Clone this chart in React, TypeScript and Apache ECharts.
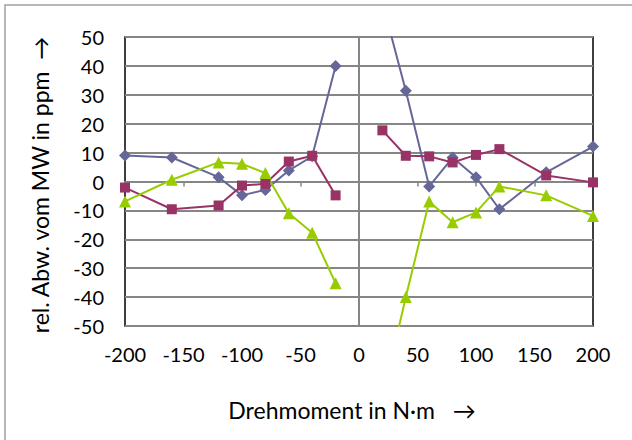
import React, { useEffect, useRef } from "react";
import * as echarts from "echarts";

const torque = [-200, -160, -120, -100, -80, -60, -40, -20, 0, 20, 40, 60, 80, 100, 120, 160, 200];
const blueVals = [9, 8.3, 1.5, -4.8, -2.9, 3.8, 8.7, 40, null, 62, 31.4, -1.7, 8.3, 1.5, -9.6, 3.2, 12.1];
const redVals = [-2.1, -9.6, -8.3, -1.4, -0.8, 6.9, 8.9, -4.8, null, 17.7, 8.9, 8.7, 6.6, 9.2, 11.2, 2.1, -0.3];
const greenVals = [-6.9, 0.6, 6.6, 6.1, 2.9, -11, -17.7, -35.2, null, -75, -40, -6.9, -14.1, -10.7, -1.7, -4.8, -11.9];
const xTicks = [-200, -150, -100, -50, 0, 50, 100, 150, 200];
const yTicks = [-50, -40, -30, -20, -10, 0, 10, 20, 30, 40, 50];

const FONT = "Lato";
const GRAY = "#868686";

const pairs = (vals: (number | null)[]) =>
  torque.map((x, i) => [x, vals[i] === null ? "-" : vals[i]]);

export default function App() {
  const ref = useRef<HTMLDivElement>(null);
  useEffect(() => {
    if (!ref.current) return;
    const chart = echarts.init(ref.current, null, { renderer: "svg" });
    const mkSeries = (name: string, vals: (number | null)[], color: string, symbol: string, size: number) => ({
      name,
      type: "line",
      data: pairs(vals),
      xAxisIndex: 0,
      yAxisIndex: 0,
      symbol,
      symbolSize: size,
      showAllSymbol: true,
      connectNulls: false,
      clip: true,
      lineStyle: { color, width: 2 },
      itemStyle: { color, borderWidth: 0 },
      z: 3,
    });
    chart.setOption({
      animation: false,
      backgroundColor: "#fff",
      textStyle: { fontFamily: FONT },
      graphic: [
        {
          type: "rect",
          shape: { x: 5, y: 5, width: 700, height: 500 },
          style: { fill: "none", stroke: "#a0a0a0", lineWidth: 1.5 },
          silent: true,
          z: -10,
        },
        {
          type: "text",
          x: 40,
          y: 185,
          rotation: Math.PI / 2,
          style: {
            text: "rel. Abw. vom MW in ppm  →",
            font: `23px ${FONT}`,
            fill: "#000",
            align: "center",
            verticalAlign: "middle",
          },
        },
        {
          type: "text",
          x: 352,
          y: 410,
          style: {
            text: "Drehmoment in N·m   →",
            font: `23px ${FONT}`,
            fill: "#000",
            align: "center",
            verticalAlign: "middle",
          },
        },
      ],
      grid: {
        left: 125,
        right: 39,
        top: 37,
        bottom: 114,
        show: true,
        borderColor: "#000",
        borderWidth: 1.5,
        backgroundColor: "transparent",
      },
      xAxis: [
        {
          type: "value",
          min: -200,
          max: 200,
          interval: 50,
          axisLine: { show: false, onZero: false },
          axisTick: { show: false },
          splitLine: { show: false },
          axisLabel: {
            margin: 18,
            fontSize: 20,
            color: "#000",
            fontFamily: FONT,
            customValues: xTicks,
          },
        },
        {
          type: "value",
          min: -200,
          max: 200,
          interval: 50,
          position: "bottom",
          axisLine: { show: true, onZero: true, onZeroAxisIndex: 0, lineStyle: { color: GRAY, width: 2 } },
          axisTick: { show: true, length: 5, lineStyle: { color: GRAY, width: 1.5 } },
          splitLine: { show: false },
          axisLabel: { show: false },
        },
      ],
      yAxis: [
        {
          type: "value",
          min: -50,
          max: 50,
          interval: 10,
          axisLine: { show: false, onZero: false },
          axisTick: { show: false },
          splitLine: { show: true, lineStyle: { color: GRAY, width: 2 } },
          axisLabel: {
            margin: 21,
            fontSize: 20,
            color: "#000",
            fontFamily: FONT,
            customValues: yTicks,
          },
        },
      ],
      series: [
        {
          type: "line",
          data: [],
          markLine: {
            silent: true,
            symbol: "none",
            label: { show: false },
            lineStyle: { color: GRAY, width: 2, type: "solid" },
            data: [{ xAxis: 0 }],
          },
          z: 1,
        },
        mkSeries("A", blueVals, "#666699", "diamond", 12),
        mkSeries("B", redVals, "#993366", "rect", 10),
        mkSeries("C", greenVals, "#99CC00", "triangle", 12),
      ],
    });
    return () => chart.dispose();
  }, []);
  return (
    <div
      ref={ref}
      style={{ position: "absolute", left: 0, top: 0, width: 632, height: 440 }}
    />
  );
}
